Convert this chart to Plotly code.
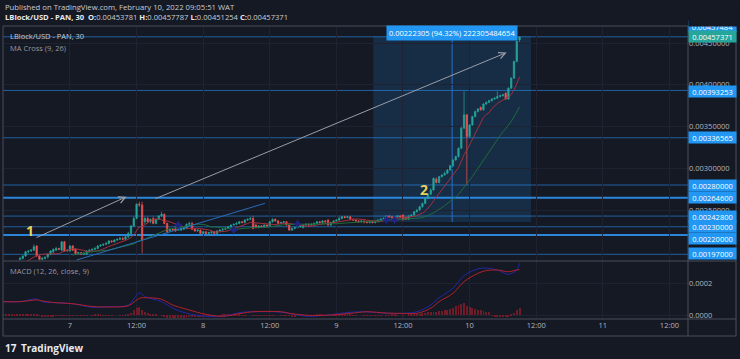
import pandas as pd
import plotly.graph_objects as go

# ---------------- data ----------------
U = 1e-5          # candle prices below are in units of 0.00001 USD
HU = 1e-6         # histogram units
MU = 1e-4         # macd / signal units

candle_start = "2022-02-06 12:00"   # 30-minute candles

opens = [180, 181, 182, 183, 184, 185,
         191, 192, 195, 200, 201, 202, 207, 195, 191, 192,
         194, 197, 200, 202, 204, 202, 212, 201, 201, 207,
         203, 198, 199, 197, 197, 201, 202, 203, 204, 207,
         208, 209, 210, 213, 212, 214, 215, 216, 215, 218,
         222, 231, 240, 257, 256, 236, 240, 236, 240, 234,
         239, 243, 245, 234, 225, 227, 228, 226, 226, 227,
         228, 233, 234, 227, 225, 226, 222, 224, 222, 223,
         224, 222, 225, 226, 227, 228, 230, 232, 233, 234,
         236, 235, 238, 239, 240, 232, 229, 231, 230, 232,
         231, 236, 239, 237, 234, 235, 236, 232, 226, 228,
         229, 230, 229, 232, 233, 232, 233, 234, 236, 235,
         237, 238, 232, 235, 237, 238, 240, 242, 241, 242,
         239, 238, 237, 236, 237, 236, 235, 236, 235, 236,
         238, 239, 240, 243, 242, 241, 242, 243, 244, 241,
         239, 243, 244, 248, 250, 254, 258, 264, 269, 274,
         287, 283, 290, 292, 294, 298, 303, 310, 314, 324,
         348, 364, 338, 352, 362, 368, 373, 370, 377, 379,
         381, 383, 384, 386, 387, 390, 383, 396, 408, 428,
         453.781]

closes = [181, 182, 183, 184, 185, 186,
          192, 195, 200, 201, 202, 206, 195, 191, 192, 193,
          197, 201, 203, 204, 203, 212, 201, 202, 207, 202,
          198, 199, 197, 198, 201, 202, 203, 204, 207, 208,
          209, 210, 213, 212, 214, 215, 216, 215, 218, 222,
          231, 240, 257, 256, 214, 240, 236, 239, 234, 239,
          243, 245, 234, 224, 227, 226, 225, 227, 228, 228,
          233, 234, 227, 225, 226, 222, 224, 222, 223, 224,
          222, 225, 226, 227, 228, 230, 232, 233, 234, 236,
          235, 238, 239, 240, 228, 229, 231, 230, 232, 231,
          236, 239, 237, 234, 235, 236, 232, 226, 228, 229,
          230, 231, 232, 233, 232, 233, 234, 236, 235, 237,
          236, 232, 235, 237, 238, 240, 242, 241, 242, 239,
          238, 237, 236, 237, 236, 235, 236, 235, 236, 238,
          239, 240, 243, 242, 241, 242, 243, 242, 239, 239,
          243, 244, 248, 250, 254, 258, 264, 269, 274, 288,
          283, 290, 292, 294, 298, 303, 310, 314, 324, 348,
          364, 338, 352, 362, 368, 371, 370, 377, 379, 381,
          383, 384, 386, 387, 388, 383, 396, 408, 428, 452,
          457.371]

highs = [182, 183, 184, 185, 186, 187,
         194, 196, 201, 202, 203, 209, 208, 196, 194, 195,
         198, 202, 204, 206, 205, 213, 213, 203, 208, 208,
         204, 200, 200, 200, 202, 203, 204, 206, 208, 209,
         210, 212, 214, 214, 215, 216, 218, 218, 219, 224,
         232, 242, 258, 260, 260, 242, 242, 240, 242, 240,
         244, 248, 246, 235, 228, 228, 230, 228, 230, 230,
         234, 236, 236, 228, 227, 227, 225, 225, 224, 225,
         225, 226, 227, 228, 230, 231, 233, 234, 236, 237,
         237, 239, 240, 242, 243, 234, 232, 232, 233, 233,
         237, 240, 240, 238, 236, 237, 237, 233, 229, 230,
         231, 232, 233, 234, 234, 234, 235, 237, 237, 238,
         238, 239, 236, 238, 239, 242, 243, 243, 243, 243,
         240, 239, 238, 238, 238, 237, 237, 237, 237, 239,
         240, 241, 244, 244, 243, 243, 244, 244, 245, 242,
         244, 245, 249, 251, 255, 259, 265, 270, 276, 289,
         289, 291, 293, 296, 299, 304, 311, 315, 325, 350,
         392, 365, 353, 363, 369, 372, 374, 378, 380, 382,
         384, 385, 392, 388, 389, 391, 397, 409, 429, 453,
         457.787]

lows = [179, 180, 181, 182, 183, 184,
        190, 191, 194, 198, 200, 201, 194, 190, 190, 191,
        192, 196, 198, 201, 202, 201, 200, 200, 200, 201,
        197, 197, 196, 196, 196, 200, 201, 202, 203, 206,
        207, 208, 209, 211, 211, 213, 214, 214, 214, 216,
        221, 230, 239, 254, 198, 233, 234, 234, 233, 233,
        238, 242, 233, 222, 224, 225, 224, 225, 225, 226,
        227, 232, 226, 224, 224, 221, 221, 221, 221, 221,
        221, 221, 224, 225, 226, 227, 228, 231, 232, 233,
        234, 234, 237, 238, 227, 228, 228, 229, 229, 230,
        230, 235, 236, 233, 233, 234, 231, 225, 225, 227,
        228, 229, 228, 231, 231, 231, 232, 233, 234, 234,
        235, 231, 231, 234, 236, 237, 239, 240, 240, 238,
        237, 236, 235, 235, 234, 234, 234, 234, 234, 235,
        237, 238, 239, 241, 240, 240, 241, 241, 237, 238,
        238, 242, 243, 247, 249, 253, 257, 263, 268, 273,
        282, 282, 289, 291, 293, 297, 302, 309, 313, 323,
        347, 280, 336, 351, 361, 367, 369, 369, 376, 378,
        380, 382, 383, 385, 386, 382, 382, 395, 407, 427,
        451.254]

hist = [3, 3, 4, 4, 5, 5,
        5, 6, 8, 10, 10, 8, 6,
        -3, -5, -5, -6, -5, -5, -4, -4, -3, -3,
        -2, -2, -1, -2, -3, -3, -2, -1, 0, 1, 2, 2, 2, 1, 1, 1, 1, 0, 0, 1, 1, 2, 5,
        15, 30, 45, 50, 35,
        20, 15, 10, 5, 3, 0, -3,
        -8, -15, -18, -19, -19, -18, -17, -16, -15, -13, -12, -10, -9, -8, -6, -4,
        -3, -2, -1, 0, 1, 2, 3, 3, 3, 3, 2, 2, 1, 1, 0, 0, -1, -3, -4,
        -4, -4, -3, -2, -1, 0, 0, -1, -2, -3, -4, -5, -5, -4, -3, -2, -1, 0, 1, 1,
        2, 2, 2, 1, 0, 0, 1, 2, 3, 3, 3, 2, 2, 1, 1, 0, 0, -1, -1,
        -1, -1, -2, -2, -1, 0, 1, 1, 2, 2, 1, 0, -1, 0, 2, 4,
        6, 8, 10, 12, 15, 18, 20, 22, 20, 24, 27, 30, 34, 38, 44,
        55, 65, 72, 75, 60,
        50, 45, 40, 35, 30, 25, 22, 20,
        -3, -5, -8, -10, -10, -12, -8,
        5, 15, 30, 44]

macd_times = ["2022-02-06 12:00", "2022-02-06 15:00", "2022-02-06 18:00", "2022-02-06 19:00",
              "2022-02-06 21:00", "2022-02-06 23:30", "2022-02-07 01:00", "2022-02-07 04:00",
              "2022-02-07 07:00", "2022-02-07 10:30", "2022-02-07 12:30", "2022-02-07 13:30",
              "2022-02-07 16:30", "2022-02-07 18:30", "2022-02-07 21:00", "2022-02-08 00:30",
              "2022-02-08 03:30", "2022-02-08 07:00", "2022-02-08 09:00", "2022-02-08 14:00",
              "2022-02-08 16:00", "2022-02-08 19:00", "2022-02-08 22:00", "2022-02-09 02:30",
              "2022-02-09 05:30", "2022-02-09 09:00", "2022-02-09 12:00", "2022-02-09 14:30",
              "2022-02-09 17:00", "2022-02-09 18:30", "2022-02-09 21:00", "2022-02-09 23:00",
              "2022-02-10 01:30", "2022-02-10 03:00", "2022-02-10 05:00", "2022-02-10 07:00",
              "2022-02-10 08:30", "2022-02-10 09:00"]
macd_vals = [0.85, 0.85, 1.02, 0.85, 0.79, 0.75, 0.69, 0.50, 0.54, 0.64, 1.41, 1.16, 0.85,
             0.44, 0.13, -0.06, -0.06, 0.19, 0.22, 0.20, 0.08, -0.06, 0.00, 0.19, 0.22, 0.12,
             0.12, 0.22, 0.64, 1.10, 1.69, 2.48, 2.90, 2.94, 2.83, 2.56, 2.83, 3.25]
signal_vals = [0.85, 0.85, 0.96, 0.90, 0.80, 0.75, 0.70, 0.55, 0.52, 0.60, 1.06, 1.10, 1.00,
               0.64, 0.38, 0.06, -0.06, 0.13, 0.22, 0.22, 0.10, 0.00, 0.00, 0.12, 0.22, 0.14,
               0.12, 0.12, 0.44, 0.85, 1.37, 2.10, 2.62, 2.79, 2.83, 2.72, 2.83, 2.85]

# horizontal price levels drawn on the chart
levels = [0.00457484, 0.00393253, 0.00336565, 0.00280000, 0.00264600,
          0.00242800, 0.00230000, 0.00220000, 0.00197000]
last_price = 0.00457371

# MA-cross markers
cross_times = ["2022-02-07 19:30", "2022-02-08 05:30", "2022-02-08 17:00",
               "2022-02-09 09:00", "2022-02-09 10:30"]
cross_prices = [0.002321, 0.002261, 0.002335, 0.002380, 0.002380]

# wave labels
label_texts = ["1", "2"]
label_times = ["2022-02-06 16:48", "2022-02-09 15:47"]
label_prices = [0.002261, 0.002749]

# arrows (tail -> head)
arrow_tail_t = ["2022-02-06 17:42", "2022-02-07 15:08"]
arrow_tail_p = [0.002162, 0.002629]
arrow_head_t = ["2022-02-07 10:12", "2022-02-10 06:41"]
arrow_head_p = [0.002660, 0.004387]

# blue trend line
trend_t = ["2022-02-07 01:12", "2022-02-08 11:08"]
trend_p = [0.001902, 0.002581]

# date & price range tool
range_t = ["2022-02-09 06:39", "2022-02-10 11:04"]
range_p = [0.00235696, 0.00458001]
range_text = "0.00222305 (94.32%) 222305484654"

tick_times = ["2022-02-06 12:00", "2022-02-07 00:00", "2022-02-07 12:00", "2022-02-08 00:00",
              "2022-02-08 12:00", "2022-02-09 00:00", "2022-02-09 12:00", "2022-02-10 00:00",
              "2022-02-10 12:00", "2022-02-11 00:00", "2022-02-11 12:00"]
tick_text = ["12:00", "7", "12:00", "8", "12:00", "9", "12:00", "10", "12:00", "11", "12:00"]
price_ticks = [0.0025, 0.0030, 0.0035, 0.0040, 0.0045]
macd_ticks = [0.0, 0.0002]

x_range = ["2022-02-06 11:56", "2022-02-11 15:21"]
y_range = [0.00189, 0.0047042]
y2_range = [-0.0000231, 0.000339]

# ---------------- styling ----------------
W, H = 740, 359
ML, MR, MT, MB = 3, 52, 26, 40
PW, PH = W - ML - MR, H - MT - MB
BG = "#151924"
GRID = "#1f2331"
FRAME = "#4a4e5a"
TXT = "#b2b5be"
FONT = "Open Sans"
UP, DOWN = "#26a69a", "#ef5350"
LABEL_BLUE = "#2196f3"


def px_x(px):
    return (px - ML) / PW


def px_y(py):
    return (H - MB - py) / PH


times = pd.date_range(candle_start, periods=len(closes), freq="30min")
cl = pd.Series(closes, dtype=float) * U
ma_fast = cl.rolling(9).mean()
ma_slow = cl.rolling(26).mean()

fig = go.Figure()

fig.add_trace(go.Candlestick(
    x=times, open=[v * U for v in opens], high=[v * U for v in highs],
    low=[v * U for v in lows], close=cl,
    increasing=dict(line=dict(color=UP, width=0.7), fillcolor=UP),
    decreasing=dict(line=dict(color=DOWN, width=0.7), fillcolor=DOWN),
    xaxis="x", yaxis="y", hoverinfo="skip"))

fig.add_trace(go.Scatter(x=times, y=ma_fast, mode="lines",
                         line=dict(color="#a3303d", width=1), xaxis="x", yaxis="y"))
fig.add_trace(go.Scatter(x=times, y=ma_slow, mode="lines",
                         line=dict(color="#1d6b3c", width=1), xaxis="x", yaxis="y"))
fig.add_trace(go.Scatter(x=pd.to_datetime(cross_times), y=cross_prices, mode="markers",
                         marker=dict(symbol="star-diamond", size=7, color="#1f2580"),
                         xaxis="x", yaxis="y"))

fig.add_trace(go.Bar(x=times, y=[v * HU for v in hist], width=10 * 60 * 1000,
                     marker=dict(color="#6e1c28", line=dict(width=0)),
                     xaxis="x2", yaxis="y2"))
fig.add_trace(go.Scatter(x=pd.to_datetime(macd_times), y=[v * MU for v in macd_vals],
                         mode="lines", line=dict(color="#2127a8", width=1, shape="spline"),
                         xaxis="x2", yaxis="y2"))
fig.add_trace(go.Scatter(x=pd.to_datetime(macd_times), y=[v * MU for v in signal_vals],
                         mode="lines", line=dict(color="#b3202b", width=1, shape="spline"),
                         xaxis="x2", yaxis="y2"))

shapes = []
# date & price range box
rt0, rt1 = pd.to_datetime(range_t[0]), pd.to_datetime(range_t[1])
rmid = rt0 + (rt1 - rt0) / 2
shapes.append(dict(type="rect", xref="x", yref="y", x0=rt0, x1=rt1, y0=range_p[0], y1=range_p[1],
                   fillcolor="rgba(33,150,243,0.17)", line=dict(width=0), layer="below"))
shapes.append(dict(type="line", xref="x", yref="y", x0=rmid, x1=rmid, y0=range_p[0], y1=range_p[1],
                   line=dict(color="#2a6fc0", width=1), layer="below"))

bold_levels = {0.00264600, 0.00220000}
for lv in levels:
    thick = lv in bold_levels
    shapes.append(dict(type="line", xref="paper", yref="y", x0=0, x1=1, y0=lv, y1=lv,
                       line=dict(color="#2b86d9" if thick else "#22609f", width=2 if thick else 1),
                       layer="below"))

# trend line
shapes.append(dict(type="line", xref="x", yref="y", x0=trend_t[0], x1=trend_t[1],
                   y0=trend_p[0], y1=trend_p[1], line=dict(color="#2a6cb8", width=1)))

# frame & separators
xr = px_x(736)
shapes += [
    dict(type="rect", xref="paper", yref="paper", x0=0, x1=xr, y0=px_y(336), y1=1,
         line=dict(color=FRAME, width=1)),
    dict(type="line", xref="paper", yref="paper", x0=1, x1=1, y0=px_y(336), y1=1,
         line=dict(color=FRAME, width=1)),
    dict(type="line", xref="paper", yref="paper", x0=0, x1=xr, y0=px_y(261), y1=px_y(261),
         line=dict(color=FRAME, width=1)),
    dict(type="line", xref="paper", yref="paper", x0=0, x1=xr, y0=0, y1=0,
         line=dict(color=FRAME, width=1)),
]

ann = []


def text_at(px, py, text, size=7.5, color=TXT, anchor="left"):
    ann.append(dict(xref="paper", yref="paper", x=px_x(px), y=px_y(py), text=text,
                    showarrow=False, xanchor=anchor, yanchor="middle",
                    font=dict(family=FONT, size=size, color=color)))


text_at(3, 7, "Published on TradingView.com, February 10, 2022 09:05:51 WAT", 7.7, "#c9ccd3")
text_at(3, 17, "<b>LBlock/USD - PAN, 30</b>  <b>O:</b><span style='color:#c9ccd3'>0.00453781</span>"
        " <b>H:</b><span style='color:#c9ccd3'>0.00457787</span>"
        " <b>L:</b><span style='color:#c9ccd3'>0.00451254</span>"
        " <b>C:</b><span style='color:#c9ccd3'>0.00457371</span>", 7.6, "#e8eaee")
text_at(8, 36.5, "LBlock/USD - PAN, 30", 7.5, "#c9ccd3")
text_at(8, 48, "MA Cross (9, 26)", 7.5, "#9598a1")
text_at(8, 271, "MACD (12, 26, close, 9)", 7.5, "#9598a1")
text_at(19, 348, "<b>TradingView</b>", 10, "#e8eaee")
text_at(3, 348, "<b>17</b>", 10, "#e8eaee")

for t, p, s in zip(label_times, label_prices, label_texts):
    ann.append(dict(xref="x", yref="y", x=t, y=p, text=f"<b>{s}</b>", showarrow=False,
                    font=dict(family=FONT, size=14, color="#e3d45a")))

for tt, tp, ht, hp in zip(arrow_tail_t, arrow_tail_p, arrow_head_t, arrow_head_p):
    ann.append(dict(xref="x", yref="y", axref="x", ayref="y", x=ht, y=hp, ax=tt, ay=tp,
                    text="", showarrow=True, arrowhead=5, arrowsize=1.3, arrowwidth=1,
                    arrowcolor="#9a9da6"))

ann.append(dict(xref="x", yref="y", x=rmid, y=range_p[1], yshift=3, text=range_text,
                showarrow=False, bgcolor=LABEL_BLUE, borderpad=2,
                font=dict(family=FONT, size=7.5, color="white")))

label_shift = {0.00457484: 10, 0.00220000: -3, 0.00197000: 1, 0.00393253: -1}
for lv in levels:
    ann.append(dict(xref="paper", yref="y", x=1, y=lv, xanchor="left", yanchor="middle",
                    yshift=label_shift.get(lv, 0), text=f"{lv:.8f}", showarrow=False,
                    bgcolor=LABEL_BLUE, width=46, height=10, borderpad=0.5, align="center",
                    font=dict(family=FONT, size=7.5, color="white")))
ann.append(dict(xref="paper", yref="y", x=1, y=last_price, xanchor="left", yanchor="middle",
                text=f"{last_price:.8f}", showarrow=False, bgcolor=UP, width=46, height=10,
                borderpad=0.5, align="center", font=dict(family=FONT, size=7.5, color="white")))
# mask above the chart frame (label clipped at top)
ann.append(dict(xref="paper", yref="paper", x=1, y=px_y(20), xanchor="left", yanchor="middle",
                text=" ", showarrow=False, bgcolor=BG, width=50, height=12, borderpad=0))

fig.update_layout(
    width=W, height=H, margin=dict(l=ML, r=MR, t=MT, b=MB, pad=0),
    paper_bgcolor=BG, plot_bgcolor=BG, showlegend=False, bargap=0,
    font=dict(family=FONT, size=7.5, color=TXT),
    xaxis=dict(domain=[0, 1], anchor="y", type="date", range=x_range, rangeslider=dict(visible=False),
               showticklabels=False, tickvals=tick_times, showgrid=True, gridcolor=GRID,
               zeroline=False, showline=False, ticks=""),
    xaxis2=dict(domain=[0, 1], anchor="y2", type="date", range=x_range, matches="x",
                tickvals=tick_times, ticktext=tick_text, showgrid=True, gridcolor=GRID,
                zeroline=False, showline=False, ticks="",
                tickfont=dict(family=FONT, size=7.5, color=TXT)),
    yaxis=dict(domain=[px_y(261), 1], anchor="x", side="right", range=y_range,
               tickvals=price_ticks, ticktext=[f"{v:.8f}" for v in price_ticks],
               showgrid=True, gridcolor=GRID, zeroline=False, showline=False, ticks="",
               tickfont=dict(family=FONT, size=7.5, color=TXT)),
    yaxis2=dict(domain=[0, px_y(261)], anchor="x2", side="right", range=y2_range,
                tickvals=macd_ticks, ticktext=["0.0000", "0.0002"],
                showgrid=True, gridcolor=GRID, zeroline=False, showline=False, ticks="",
                tickfont=dict(family=FONT, size=7.5, color=TXT)),
    shapes=shapes, annotations=ann,
)

fig.write_html("out.html", config={"displayModeBar": False},
               post_script="document.body.style.margin='0';document.body.style.background='%s';" % BG)
